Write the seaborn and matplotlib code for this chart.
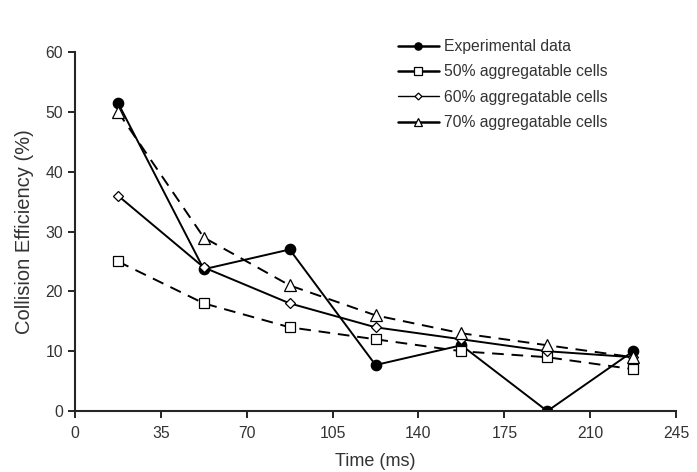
import numpy as np
import pandas as pd
import matplotlib
matplotlib.use("Agg")
import matplotlib.pyplot as plt
import seaborn as sns

# Data
time_ms = [17.5, 52.5, 87.5, 122.5, 157.5, 192.5, 227.5]
experimental = [51.5, 23.7, 27.0, 7.7, 11.0, 0.0, 10.0]
agg_50 = [25.0, 18.0, 14.0, 12.0, 10.0, 9.0, 7.0]
agg_60 = [36.0, 24.0, 18.0, 14.0, 12.0, 10.0, 9.0]
agg_70 = [50.0, 29.0, 21.0, 16.0, 13.0, 11.0, 9.0]

series_names = ["Experimental data", "50% aggregatable cells",
                "60% aggregatable cells", "70% aggregatable cells"]
x_ticks = [0, 35, 70, 105, 140, 175, 210, 245]
y_ticks = [0, 10, 20, 30, 40, 50, 60]

sns.set_style("ticks")
plt.rcParams['font.family'] = ['Liberation Sans', 'DejaVu Sans']

df = pd.DataFrame({
    'time': time_ms * 4,
    'value': experimental + agg_50 + agg_60 + agg_70,
    'series': np.repeat(series_names, len(time_ms)),
})

styles = {
    "Experimental data": dict(ls='-', marker='o', mfc='black', ms=7.5),
    "50% aggregatable cells": dict(ls=(0, (6, 4)), marker='s', mfc='white', ms=7.5),
    "60% aggregatable cells": dict(ls='-', marker='D', mfc='white', ms=5),
    "70% aggregatable cells": dict(ls=(0, (6, 4)), marker='^', mfc='white', ms=8.5),
}

fig = plt.figure(figsize=(6.97, 4.72), dpi=100)
ax = fig.add_axes([0.1076, 0.129, 0.8624, 0.761])

for name in series_names:
    st = styles[name]
    sub = df[df['series'] == name]
    sns.lineplot(data=sub, x='time', y='value', ax=ax, color='black',
                 linewidth=1.4, linestyle=st['ls'], marker=st['marker'],
                 markerfacecolor=st['mfc'], markeredgecolor='black',
                 markeredgewidth=0.9, markersize=st['ms'], label=name)

ax.set_xlim(0, 245)
ax.set_ylim(0, 60)
ax.set_xticks(x_ticks)
ax.set_yticks(y_ticks)
ax.tick_params(axis='both', labelsize=11.3, length=5, width=1.2, color='black',
               labelcolor='#333333')
ax.tick_params(axis='x', pad=6)
ax.set_xlabel('Time (ms)', fontsize=13, color='#333333', labelpad=8)
ax.set_ylabel('Collision Efficiency (%)', fontsize=14.5, color='#333333', labelpad=8)
for s in ['left', 'bottom']:
    ax.spines[s].set_linewidth(1.5)
sns.despine(ax=ax)

leg = ax.legend(loc='upper left', bbox_to_anchor=(0.514, 1.075), frameon=False,
                fontsize=11.3, handlelength=2.6, labelspacing=0.66, handletextpad=0.35,
                markerscale=0.7, labelcolor='#333333')
# legend keys are drawn with solid lines in the reference
for h, name in zip(leg.legend_handles, series_names):
    h.set_linestyle('-')
    h.set_linewidth(1.0 if name.startswith('60') else 1.8)

fig.savefig('out.png', dpi=100)
